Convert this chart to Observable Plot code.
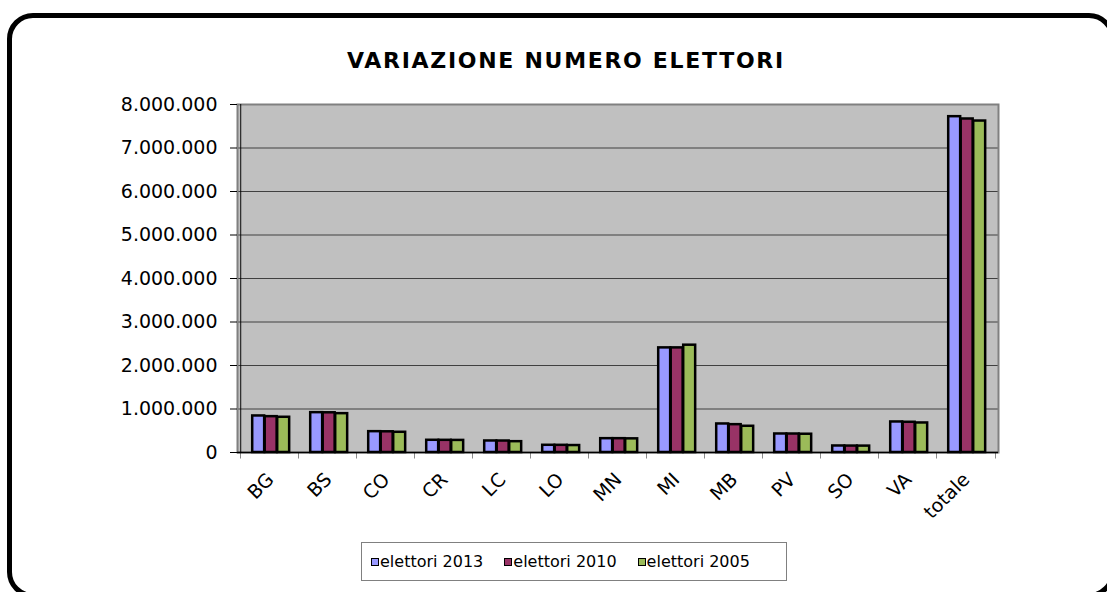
<!DOCTYPE html>
<html><head><meta charset="utf-8">
<script src="https://cdn.jsdelivr.net/npm/d3@7"></script>
<script src="https://cdn.jsdelivr.net/npm/@observablehq/plot@0.6"></script>
<style>
html,body{margin:0;padding:0;background:#fff;overflow:hidden;width:1107px;height:592px}
#wrap{position:relative;width:1107px;height:592px;font-family:"DejaVu Sans",sans-serif;color:#000}
#border{position:absolute;left:7px;top:13px;width:1098px;height:575px;border:5px solid #000;border-radius:26px}
#title{position:absolute;left:0;top:48px;width:1132px;text-align:center;font-weight:bold;font-size:22px;line-height:26px;letter-spacing:1.7px}
#chart{position:absolute;left:0;top:0}
#legend{position:absolute;left:361px;top:542px;width:415px;height:37px;border:1px solid #808080;background:#fff;display:flex;align-items:center;padding-left:9px;box-sizing:content-box;gap:21px;font-size:16px}
.item{display:flex;align-items:center}
.sw{display:inline-block;width:6px;height:6px;border:1.5px solid #000;margin-right:1px}
</style></head>
<body><div id="wrap"><div id="border"></div><div id="chart"></div><div id="title"></div><div id="legend"></div></div>
<script>
const titleText = "VARIAZIONE NUMERO ELETTORI";
const categories = ["BG","BS","CO","CR","LC","LO","MN","MI","MB","PV","SO","VA","totale"];
const series = ["elettori 2013","elettori 2010","elettori 2005"];
const v2013 = [840000, 916000, 479000, 281000, 265000, 166000, 318000, 2405000, 656000, 426000, 150000, 702000, 7720000];
const v2010 = [824000, 913000, 476000, 280000, 264000, 165000, 318000, 2405000, 640000, 425000, 148000, 695000, 7667000];
const v2005 = [810000, 893000, 465000, 278000, 249000, 160000, 314000, 2467000, 603000, 420000, 147000, 679000, 7620000];
const colors = ["#9999FF","#993366","#9BBB59"];
const yTicks = [0,1000000,2000000,3000000,4000000,5000000,6000000,7000000,8000000];

const seriesValues = [v2013, v2010, v2005];
const rows = categories.flatMap((c, i) => series.map((s, j) => ({cat: c, series: s, value: seriesValues[j][i]})));

const W = 1107, H = 540;
const mL = 237, mR = 109, mT = 104, mB = 88;
const bw = (W - mL - mR) / categories.length;
const off = 11.2, bwid = 12.5;
const fmt = d3.formatLocale({decimal: ",", thousands: ".", grouping: [3], currency: ["", ""]}).format(",");

const barMarks = series.map((s, j) => Plot.barY(rows.filter(r => r.series === s), {
  x: "cat", y: "value", fill: colors[j], stroke: "#000", strokeWidth: 2.5,
  insetLeft: off + bwid * j, insetRight: bw - (off + bwid * (j + 1))
}));

const plot = Plot.plot({
  width: W, height: H,
  marginLeft: mL, marginRight: mR, marginTop: mT, marginBottom: mB,
  style: {fontFamily: "DejaVu Sans", fontSize: "19px", color: "#000", background: "transparent"},
  x: {type: "band", domain: categories, padding: 0, axis: null},
  y: {domain: [0, 8000000], axis: null},
  marks: [
    Plot.frame({fill: "#c0c0c0", stroke: "none"}),
    Plot.gridY(yTicks.slice(1, -1), {stroke: "#404040", strokeOpacity: 1, strokeWidth: 1}),
    Plot.frame({stroke: "#808080", strokeWidth: 2}),
    ...barMarks,
    Plot.ruleY([0], {stroke: "#000", strokeWidth: 1.5}),
    Plot.barY([categories[0]], {x: d => d, y1: 0, y2: 8000000, fill: "#000", insetLeft: -0.75, insetRight: bw - 0.75}),
    Plot.barY(categories, {x: d => d, y1: 0, y2: -150000, fill: "#000", insetLeft: -0.5, insetRight: bw - 0.5}),
    Plot.barY([categories[categories.length - 1]], {x: d => d, y1: 0, y2: -150000, fill: "#000", insetLeft: bw - 0.5, insetRight: -0.5}),
    Plot.axisY({ticks: yTicks, tickFormat: fmt, tickSize: 7, tickPadding: 13, fontSize: 19, label: null}),
    Plot.axisX({tickSize: 0, tickRotate: -45, tickPadding: 24, fontSize: 19, label: null})
  ]
});
document.getElementById("chart").appendChild(plot);
document.getElementById("title").textContent = titleText;
const leg = document.getElementById("legend");
series.forEach((s, j) => {
  const it = document.createElement("div"); it.className = "item";
  const sw = document.createElement("span"); sw.className = "sw"; sw.style.background = colors[j];
  const tx = document.createElement("span"); tx.textContent = s;
  it.appendChild(sw); it.appendChild(tx); leg.appendChild(it);
});
</script></body></html>
